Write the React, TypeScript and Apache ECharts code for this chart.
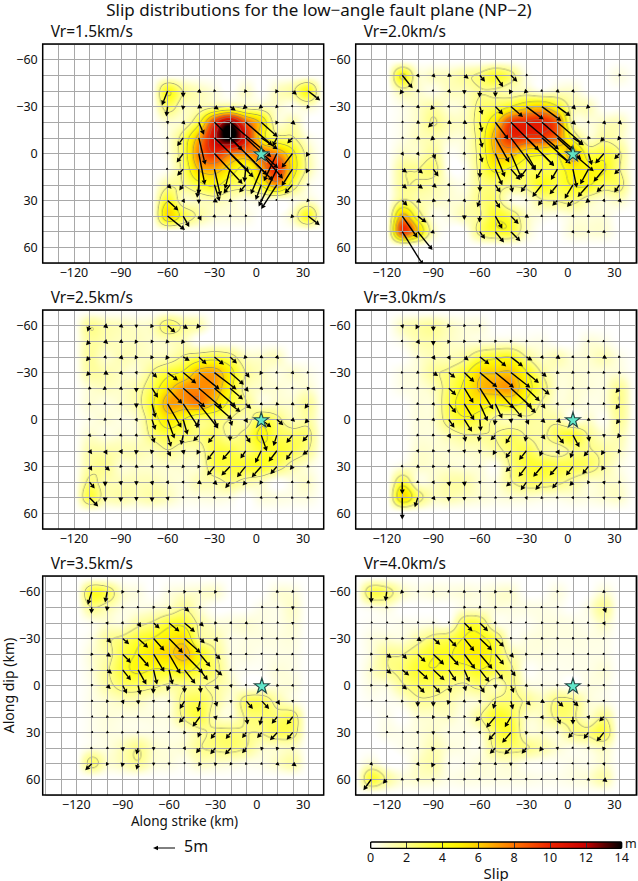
import React, { useEffect, useRef } from "react";
import * as echarts from "echarts";

const FONT = '"Noto Sans", sans-serif';
const MINUS = "\u2212";
const mainTitle = `Slip distributions for the low${MINUS}angle fault plane (NP${MINUS}2)`;
const rakeScalePxPerMetre = 4.34;

// Slip colour ramp: [slip in m, colour]
const rampSlip = [0, 0.5, 1, 2, 3, 4, 5, 6, 7, 8, 10, 12, 13, 14];
const rampColor = ["#ffffff", "#ffffe2", "#ffffc0", "#ffff8c", "#ffff50", "#ffff14", "#fff000", "#ffd000", "#ffa000", "#ff7400", "#ee2400", "#c80000", "#600000", "#000000"];
const contourLevels = [2, 4, 6, 8, 10, 12];
const colorbarTicks = [0, 14];
const hypocentre = [[0, 0]];

// Each row holds the (strike, dip) slip pair in metres for each column, flat.
const vr15Cols = [-60, -50, -40, -30, -20, -10, 0, 10, 20, 30];
const vr15Rows = [-40, -30, -20, -10, 0, 10, 20, 30, 40];
const vr15Slip = [
  [-1.3,3.3, 0,1.5, .6,.5, -.3,.3, 0,0, -.4,.5, 0,0, -.4,.6, 1,.9, 2.8,2.2],
  [-.3,2.3, -.1,.8, .8,.4, 1,.7, 1.3,.9, -.7,.6, -.6,.5, -.4,.4, .1,.2, -.4,.5],
  [.1,.5, .5,.5, 1.2,2.9, 6.5,6.5, 9.5,8, 6.2,5.4, 3.8,3.4, -.3,.6, .7,.6, 0,0],
  [.3,.2, -1.4,1.9, 1.5,6.2, 8,7.8, 9.9,9.9, 7.5,7, 3.8,2.6, -1,2, -1.2,1.3, .3,.2],
  [.1,.3, -1.5,2.1, 1.4,7.2, 6.5,7, 5.4,5.5, 5,5, 5,5.8, -3,6.4, -2.5,3.3, -.5,.8],
  [.2,.1, -1.4,1.5, 0,5.8, 1.4,6.2, -1.2,4.6, -.3,3, -2.4,5.8, -4.2,8.6, -2.5,3.9, -.5,1],
  [.9,.9, -.9,1.3, -.4,3, 1.2,3.8, -1.5,2, -1.5,1.8, -1.3,3.5, -3.6,5.6, -1.8,2, 0,.4],
  [2.5,2.3, .4,.6, 0,.8, .8,.5, .6,.3, .2,.2, -.3,.3, .1,.1, .2,.2, -.4,.4],
  [4,3.2, 1.4,2.5, .6,1.1, -.5,.2, -.3,.3, -.2,.3, 0,0, 0,0, -.5,.5, 2.7,2.1],
];

const vr20Cols = [-110, -100, -90, -80, -70, -60, -50, -40, -30, -20, -10, 0, 10, 20, 30];
const vr20Rows = [-50, -40, -30, -20, -10, 0, 10, 20, 30, 40, 50];
const vr20Slip = [
  [2.4,3, .4,.5, .5,.5, .7,.3, 1,.8, 1.2,1.5, 1.8,2.7, 1.5,1.5, -.2,.2, 0,0, 0,0, 0,0, 0,0, 0,0, -.2,.3],
  [-.6,.8, .5,.3, .2,.2, .5,.5, 0,.8, -.1,1.5, 0,1.4, -.4,.8, -.6,.6, .3,.2, .5,.4, .4,.4, 0,0, 0,0, 0,0],
  [-.2,.2, .5,.4, -.7,.8, .3,.3, .5,.4, .6,1.9, 1.8,1.8, 2.8,2.4, 4,3, 4.5,3.3, 3,2.2, .7,.7, -.6,.5, 0,0, 0,0],
  [-.2,.2, .6,.3, -1.2,1.2, .7,.4, .7,.4, .5,2.3, 3,4, 6.5,6.5, 7.5,6.3, 7.4,6.5, 6,5.2, .7,.6, .3,.3, .5,.5, .6,.5],
  [-.3,.1, .6,.4, -.7,.6, .5,.1, .5,.3, .6,2.3, 3.2,5.7, 5.7,7.5, 6.4,6.5, 6.6,5.9, 5.5,5, 2.5,1.7, .6,.1, -.9,.9, -.5,.6],
  [.4,.5, .4,.5, .5,1.3, .1,.1, .4,.3, .6,2.1, 2.2,5.4, 2.5,5.8, 2.2,3.8, 2.8,2.8, 3,2.3, 4.8,4.1, .8,2.7, -2,2.3, -1.2,1.3],
  [1.1,.8, 1.2,1, 1.2,1.7, .1,.1, .1,.1, 0,2, 1.6,3.7, 2.2,2.5, -1.5,2, -1.4,2.3, -1.5,2.5, .9,4.3, -1.9,3.5, -2.4,2.9, -1.2,1.2],
  [1.1,.9, 1.2,.9, .8,.7, .3,.4, .1,.3, 0,1.6, 1.2,1.8, .4,1.8, -1.3,1.7, -2.2,2.8, -1.8,2.2, -1.9,3.2, -2.5,2.8, -1.7,1.7, -1.2,1.8],
  [1.2,1.2, .8,.6, .7,.2, .4,.3, .4,.4, -.6,1.6, 1.1,1.8, .2,.3, .3,.2, -.9,1.2, -1.2,1.2, -1.4,1.5, -.7,.6, .3,.4, .5,.5],
  [3.5,5, 2,1.5, .3,.1, .2,.3, 0,.9, -.1,1.5, 1.6,2.9, 1.8,1.8, .6,.4, .3,.2, .2,.1, .3,.4, .4,.2, .3,.3, 0,0],
  [4.8,7.7, 3.4,4.2, -.7,.3, 0,0, 0,0, 1.2,1.7, 2,2.5, 2.2,2.2, .5,.5, 0,0, 0,0, .3,.4, .4,.3, .4,.3, 0,0],
];

const vr25Cols = [-110, -100, -90, -80, -70, -60, -50, -40, -30, -20, -10, 0, 10, 20, 30];
const vr25Rows = [-60, -50, -40, -30, -20, -10, 0, 10, 20, 30, 40, 50];
const vr25Slip = [
  [-.5,1.4, .7,.6, .6,.5, 0,.6, -.4,.6, 1.8,1.6, 1.1,.8, -.6,.7, 0,0, 0,0, 0,0, 0,0, 0,0, 0,0, 0,0],
  [-.8,.9, .7,.6, .6,.4, -.4,.6, -.3,.5, -.5,.5, -.5,.6, 0,0, 0,0, 0,0, 0,0, 0,0, 0,0, 0,0, 0,0],
  [-.8,1, .4,.4, .6,.6, -.4,.6, -.4,.6, -.5,.7, 1.5,.9, 1.8,1.7, 2.2,1.8, 1.6,1.5, -.5,.5, .5,.3, .5,.5, 0,0, 0,0],
  [-.8,.8, .8,.5, .5,.5, .2,.5, 1.2,1.2, 2.4,1.8, 3,2.5, 4.8,3.9, 5.1,3.9, 3.2,2.8, .9,1.2, -.4,.6, .3,.2, .4,.4, .3,.1],
  [.5,.2, -.6,.4, .5,.4, 0,1, 1.4,2.2, 3.4,3.6, 5.1,4.4, 5.4,4.6, 5,4.3, 3,2.6, .7,.8, .4,.4, .4,.3, .2,.3, -.2,.5],
  [.4,.3, .3,.2, .4,.4, 0,1, .8,3.2, 3.2,5.5, 3.6,5.5, 4.5,5.7, 4.1,3.6, 2.4,1.9, 1.3,1.1, .4,.3, .6,.2, .5,.3, -.8,1.1],
  [.1,.3, -.4,.3, .3,.2, .3,.5, .8,2.4, 1.6,4.4, 1,3.5, -.5,2, .8,2, .5,1.5, .5,.8, 2.3,1.8, 1.5,1.3, .6,.5, -.8,.9],
  [.4,.4, .3,.1, .4,.3, .4,.3, .6,1.8, .8,2.7, -.5,2.3, -1.3,1.4, -1.5,1.8, 0,1.4, 1.1,1.8, 1.3,3.7, -.8,2.5, -1.4,1.8, -1.3,1.5],
  [.6,.8, .5,.9, .4,.8, -.1,.9, -.2,.8, .8,1.3, .2,.9, -.5,.9, -1.7,2.2, -1.8,2.1, -1.2,1.8, -1.4,2.8, -1.9,2.5, -1.5,2.1, -1.3,.9],
  [.6,1, 1.1,1, .5,.1, .5,.3, .4,.4, .4,.4, -.4,.4, -.3,.5, -1.7,2.1, -2,2.1, -2,2.5, -2.2,2.5, -1.5,1.8, -.6,.8, .4,.2],
  [1.2,1.5, 0,1, .1,.8, 0,.8, .2,.8, .3,.5, .2,.4, .7,.5, .7,.7, -1.1,1.4, -.7,.8, -.4,.6, 0,0, .3,.2, .5,.3],
  [2,2, 0,1, 0,1, 0,.8, 0,1, .2,.7, .1,.3, -.2,.3, .3,.3, .3,.2, 0,0, .3,.3, .3,.2, .3,.1, .3,.2],
];

const vr30Cols = [-110, -100, -90, -80, -70, -60, -50, -40, -30, -20, -10, 0, 10, 20, 30];
const vr30Rows = [-60, -50, -40, -30, -20, -10, 0, 10, 20, 30, 40, 50];
const vr30Slip = [
  [.2,.7, -.5,.9, 0,1.3, -.5,.5, -.3,.3, -.2,.4, 0,0, 0,0, 0,0, 0,0, 0,0, 0,0, 0,0, 0,0, 0,0],
  [.2,.2, .5,.7, 0,1, -.3,.6, -.3,.4, -.2,.4, -.2,.4, -.2,.4, -.2,.2, -.2,.2, 0,0, 0,0, .3,.3, .3,.1, 0,0],
  [0,0, .5,.1, .5,.7, .4,.7, 1,.8, 2.2,1.7, 2.5,2.2, 2.8,2.2, 1.4,.8, .4,.5, .7,.5, .3,.3, .5,.2, .7,.4, .3,.1],
  [.3,.1, -.4,.3, 1.1,.8, 1.5,1.2, 2.3,2.2, 4,3.4, 4.3,3.5, 4.5,3.5, 2.9,2.4, 1.1,1, .5,.2, -.4,.3, -.3,.3, .4,.1, .4,.2],
  [.2,.2, .4,.1, .5,.6, 1.7,1.6, 2.1,3.4, 3.1,4.9, 4.3,4.7, 4.9,4.5, 3.1,3, 1.8,1.5, .3,.4, -.4,.3, -.3,.3, .4,.1, -.9,1.1],
  [0,0, .4,.1, .4,.4, 1.7,2.1, 2.3,3.8, 1.8,4, 1.6,3.4, 2.6,3.2, 2.2,2.1, .8,1.1, .3,.4, -.4,.3, .3,.1, .4,.1, -.9,1.3],
  [0,0, .4,.1, .4,.4, 1.3,1.9, 1.8,2.8, .2,2.7, -.2,1.3, .1,.9, .6,1.2, .8,.8, .8,.8, .1,.1, .5,.3, .1,.1, -.8,1.1],
  [0,0, .4,.1, .4,.2, .5,.8, .3,1.5, -.3,1.5, -1.1,1.2, -1.2,2, -.3,1.5, .8,1, 1.5,2, 1.5,2.8, .2,1.5, 0,.6, -.6,.7],
  [0,0, .2,.5, .5,.1, .1,.5, .1,.6, -.1,.7, -.6,1, -1.2,1.7, -1.7,2.1, -.5,1.3, .5,.9, -.6,1.7, -1.1,1.3, -.7,1, -.4,.6],
  [.3,.2, .5,.3, .5,.1, .5,.1, .4,.1, .4,.2, .1,.1, -1.2,1.3, -1.8,2.4, -2,2.4, -1.8,2.1, -1.6,2.1, -1.4,1.8, -.6,1, .3,.2],
  [0,2.8, .4,.2, .3,.5, .2,1, .1,1, .1,.5, .3,.2, -1.1,1, -1.3,1.9, -1.5,1.8, -1.2,1.5, -.8,.9, -.3,.5, .2,.6, .5,.1],
  [0,5, -.7,2.2, .5,.6, 0,.9, 0,.7, 0,.5, -.3,.2, .5,.1, .2,.5, .4,.1, .3,.2, .2,.4, .2,.3, .1,.5, .1,.6],
];

const vr35Cols = [-110, -100, -90, -80, -70, -60, -50, -40, -30, -20, -10, 0, 10, 20];
const vr35Rows = [-60, -50, -40, -30, -20, -10, 0, 10, 20, 30, 40, 50];
const vr35Slip = [
  [-.9,3, -.5,2.5, -.3,.5, -.2,.3, 0,0, -.2,.3, -.2,.5, -.2,.5, -.3,.5, 0,0, 0,0, 0,0, .4,.2, -.3,.3],
  [-.1,1.5, -.1,.9, .3,.2, .3,.1, -.2,.4, .6,.4, 1.1,1, -.3,.4, 0,0, 0,0, 0,0, -.2,.2, -.2,.2, 0,.6],
  [-.1,.2, .2,.5, .3,.3, .7,1, 1.4,1.3, 2.4,2, 2.4,2.1, .9,.8, .5,.1, .3,.3, .4,.3, -.2,.3, -.2,.2, 0,.5],
  [-.1,.3, .9,1, 1.5,1.3, 2.3,2.1, 2.5,2.8, 3.2,3.3, 3.7,3.3, 1.1,1.1, .6,.8, .3,.1, .3,.2, -.2,.3, .3,.2, 0,.4],
  [-.3,.4, .9,.6, 1.9,2, 2.5,2.9, 2.5,4.1, 2.6,4.5, 4.3,4.4, 2.4,2.9, 1.2,1.2, .2,.3, .3,.2, .1,.2, .3,.1, .3,.1],
  [-.3,.3, 1.1,.9, 1.9,2.4, 1.9,3.4, .8,3.4, .8,3.4, 2.5,3.2, 1.8,2.4, 1.6,1.3, .3,.3, .1,.1, .1,.1, .3,.3, .3,.1],
  [-.1,.3, .8,.8, 1,1.9, .5,2.2, -.1,1.9, -.5,1.3, 0,1.7, .2,1.7, .8,1, .2,.6, .1,.1, .1,.1, -.3,.3, .3,.3],
  [-.2,.2, -.3,.4, .3,.7, .1,.8, .1,.4, .2,.4, -1.1,1.8, -.5,2.5, .4,1.3, 0,.5, 1.5,1.8, 1.7,1.8, .6,.9, .1,.4],
  [-.2,.1, -.3,.3, .3,.2, .3,.2, .3,.2, .3,.3, -1.3,1.4, -1.7,2.3, .2,.8, .2,.4, .3,1.8, -.5,2, -1.3,1.6, -1.4,1.8],
  [-.2,.1, -.3,.2, .3,.1, .3,.1, .2,.2, .2,.2, -.3,.4, -.5,1.2, -1.1,1.5, -1.2,1.5, -1,1.3, -1.1,1.3, -1.7,1.8, -1.4,1.7],
  [.3,.1, -.3,.2, .1,.8, -.4,1.5, 0,.6, .4,.1, .3,.5, -.9,1.2, -1.2,1.4, -1.4,1.5, -1,1.2, -.2,.6, -.2,.6, 0,.7],
  [-1.5,1.5, -.3,.5, -.2,.8, -.4,1.4, 0,.5, 0,.4, 0,.2, -.4,.6, -.1,.6, -.3,.4, .3,.1, .3,.1, .5,.4, .9,.6],
];

const vr40Cols = [-130, -120, -110, -100, -90, -80, -70, -60, -50, -40, -30, -20, -10, 0, 10, 20];
const vr40Rows = [-60, -50, -40, -30, -20, -10, 0, 10, 20, 30, 40, 50, 60];
const vr40Slip = [
  [0,2.6, -.3,2.2, -.5,.5, -.3,.1, -.3,.3, .3,.2, .4,.2, -.2,.3, -.3,.4, -.2,.5, 0,0, 0,0, -.2,.3, 0,0, 0,0, -.4,.3],
  [-.2,.2, .4,.2, 0,0, 0,0, 0,0, 0,0, -.3,.3, -.3,.3, -.3,.3, -.2,.3, .3,.1, .3,.1, -.1,.2, 0,0, .3,.2, .5,1.3],
  [-.1,.1, -.1,.1, -.1,.2, -.1,.2, -.1,.3, 0,.2, 1.9,1.9, 1.9,1.9, .3,.3, -.1,.2, .1,.1, -.2,.3, -.2,.3, .3,.1, .2,.1, .3,.6],
  [-.3,.2, -.3,.4, -.3,.3, .9,.6, 1.6,1.4, 1.8,1.9, 2.3,2.9, 2.8,2.7, 2,1.9, -.1,.3, .3,.2, -.3,.3, -.2,.3, -.2,.3, .3,.1, .3,.1],
  [-.3,.3, 1.1,.9, 1.1,1.1, 1.8,1.8, 2.5,2.4, 2.3,2.6, 2.5,3.4, 2.9,3.4, 2,2.4, .7,.8, .4,.1, -.2,.3, -.2,.2, -.2,.2, .2,.2, .2,.2],
  [-.3,.5, 1.1,.9, 1.6,1.3, 2.4,2.2, 2.6,2.4, 1.7,2.6, 1.2,2.8, 2.2,2.8, 1.8,2.2, 1.1,1.5, .1,.1, -.1,.2, 0,.2, .1,.2, .2,.2, .4,.2],
  [-.2,.3, -.3,.3, 1.1,.9, 1.6,1.7, 1.6,1.7, .5,1.7, .4,1.3, 1.1,1.7, .1,.8, .7,1.7, .4,.3, .1,.3, .1,.3, 0,0, -.2,.3, .1,.3],
  [-.1,.1, .1,.1, .4,.1, 0,1.3, 0,1.3, -.3,.9, .4,.3, .1,.6, -.5,1.8, .5,1.9, 1,1, .7,.4, 1.4,1.3, 1.3,1.2, -.3,.4, .1,.3],
  [0,0, -.2,.1, 0,0, .1,.5, -.3,.5, -.2,.6, -.2,.3, -1,1.1, -2.1,2.5, -1.4,2.4, 0,.7, .4,.6, .7,1.8, 0,1.8, .2,.6, -1.1,1.1],
  [0,0, -.2,.2, -.2,.1, .1,.4, 0,.6, .1,.3, .1,.3, .2,.4, -1.6,1.8, -2,2.4, -.1,.6, .2,.5, .1,.5, -1.1,1.3, -1.1,1.5, -1.7,2.1],
  [0,0, 0,0, -.2,.1, .1,.4, -.3,.8, -.3,.3, .3,.1, .2,.2, -1.3,1.3, -1.5,1.5, -1.1,1.3, -.6,.8, .1,.5, .2,.2, .2,.4, -.3,.7],
  [.4,.4, 0,0, 0,0, .4,.5, -.4,.9, -.1,.2, .1,.2, .4,.2, .4,.3, 0,.6, .1,.2, .1,.1, .1,.1, .2,.2, .2,.1, .2,.5],
  [-1.8,2.5, -.9,1, .4,.2, .1,.6, 0,.6, .2,.2, -.2,.3, .3,.2, .3,.2, .3,.2, .1,.3, .2,.1, .1,.2, -.2,.3, .4,.3, .8,.6],
];

const panelLabels = ["Vr=1.5km/s", "Vr=2.0km/s", "Vr=2.5km/s", "Vr=3.0km/s", "Vr=3.5km/s", "Vr=4.0km/s"];
const panelCols = [vr15Cols, vr20Cols, vr25Cols, vr30Cols, vr35Cols, vr40Cols];
const panelRows = [vr15Rows, vr20Rows, vr25Rows, vr30Rows, vr35Rows, vr40Rows];
const panelSlip = [vr15Slip, vr20Slip, vr25Slip, vr30Slip, vr35Slip, vr40Slip];

const X_MIN = -140, X_MAX = 40, Y_MIN = -70, Y_MAX = 70;
const panelW = 281, panelH = 219;
const panelLeft = [42.7, 355.7, 42.7, 355.7, 42.7, 355.7];
const panelTop = [44, 44, 310, 310, 576, 576];

function hexRgb(h: string) {
  return [parseInt(h.slice(1, 3), 16), parseInt(h.slice(3, 5), 16), parseInt(h.slice(5, 7), 16)];
}
const rampRgb = rampColor.map(hexRgb);
function rampAt(v: number) {
  if (v <= 0) return rampRgb[0];
  for (let i = 1; i < rampSlip.length; i++) {
    if (v <= rampSlip[i]) {
      const t = (v - rampSlip[i - 1]) / (rampSlip[i] - rampSlip[i - 1]);
      const a = rampRgb[i - 1], b = rampRgb[i];
      return [a[0] + (b[0] - a[0]) * t, a[1] + (b[1] - a[1]) * t, a[2] + (b[2] - a[2]) * t];
    }
  }
  return rampRgb[rampRgb.length - 1];
}
function cr(p0: number, p1: number, p2: number, p3: number, t: number) {
  return 0.5 * (2 * p1 + (p2 - p0) * t + (2 * p0 - 5 * p1 + 4 * p2 - p3) * t * t + (3 * p1 - p0 - 3 * p2 + p3) * t * t * t);
}

// Paints the slip field given at the subfault nodes; each node's slip is the length of its vector.
function slipFieldImage(i: number) {
  const cols = panelCols[i], rows = panelRows[i], table = panelSlip[i];
  const nodes = rows.map((_, r) => cols.map((_, c) => {
    const s = Math.hypot(table[r][c * 2], table[r][c * 2 + 1]);
    return s + 0.4 * Math.min(s, 1);
  }));
  const at = (r: number, c: number) => (r >= 0 && r < rows.length && c >= 0 && c < cols.length ? nodes[r][c] : 0);
  const sample = (x: number, y: number) => {
    const u = (x - cols[0]) / 10, w = (y - rows[0]) / 10;
    if (u < -1 || w < -1 || u > cols.length || w > rows.length) return 0;
    const c = Math.floor(u), r = Math.floor(w), tu = u - c, tw = w - r;
    const line: number[] = [];
    for (let k = -1; k <= 2; k++) line.push(cr(at(r + k, c - 1), at(r + k, c), at(r + k, c + 1), at(r + k, c + 2), tu));
    return Math.max(0, cr(line[0], line[1], line[2], line[3], tw));
  };
  const W = panelW, H = panelH;
  const canvas = document.createElement("canvas");
  canvas.width = W; canvas.height = H;
  const ctx = canvas.getContext("2d")!;
  const img = ctx.createImageData(W, H);
  const f = new Float32Array((W + 2) * (H + 2));
  for (let py = 0; py < H + 2; py++) for (let px = 0; px < W + 2; px++) {
    f[py * (W + 2) + px] = sample(X_MIN + ((px - 0.5) / W) * (X_MAX - X_MIN), Y_MIN + ((py - 0.5) / H) * (Y_MAX - Y_MIN));
  }
  for (let py = 0; py < H; py++) for (let px = 0; px < W; px++) {
    const k = (py + 1) * (W + 2) + px + 1;
    const v = f[k];
    let [r, g, b] = rampAt(v);
    const gx = (f[k + 1] - f[k - 1]) / 2, gy = (f[k + W + 2] - f[k - W - 2]) / 2;
    const g2 = Math.max(Math.hypot(gx, gy), 1e-3);
    for (const L of contourLevels) {
      const d = Math.abs(v - L) / g2;
      if (d < 0.8) {
        const a = (1 - d / 0.8) * 0.65;
        r = r * (1 - a) + 125 * a; g = g * (1 - a) + 125 * a; b = b * (1 - a) + 110 * a;
      }
    }
    const o = (py * W + px) * 4;
    img.data[o] = r; img.data[o + 1] = g; img.data[o + 2] = b; img.data[o + 3] = 255;
  }
  ctx.putImageData(img, 0, 0);
  return canvas.toDataURL("image/png");
}

const STAR = "path://M50 0 L61 35 L98 35 L68 57 L79 91 L50 70 L21 91 L32 57 L2 35 L39 35 Z";

function buildOption() {
  const grids: any[] = [], xAxes: any[] = [], yAxes: any[] = [], series: any[] = [], titles: any[] = [], frames: any[] = [];
  titles.push({ text: mainTitle, left: "center", top: 1, padding: 0, textStyle: { fontFamily: FONT, fontWeight: "normal", fontSize: 17, color: "#111" } });
  panelLabels.forEach((label, i) => {
    const left = panelLeft[i], top = panelTop[i];
    grids.push({ left, top, width: panelW, height: panelH, show: false });
    titles.push({ text: label, left: left + 8, top: top - 21, padding: 0, textStyle: { fontFamily: FONT, fontWeight: "normal", fontSize: 15.5, color: "#111" } });
    frames.push({ type: "rect", shape: { x: left, y: top, width: panelW, height: panelH }, style: { fill: "none", stroke: "#000", lineWidth: 1.5 }, z: 50, silent: true });
    const labelStyle = { fontFamily: FONT, fontSize: 12.5, color: "#111" };
    xAxes.push({
      type: "value", gridIndex: i, min: X_MIN, max: X_MAX, interval: 10, z: 1,
      axisLine: { show: false }, axisTick: { show: false },
      splitLine: { show: true, lineStyle: { color: "#a8a8a8", width: 1 } },
      axisLabel: {
        ...labelStyle, margin: 3, showMinLabel: true, showMaxLabel: true,
        rich: { p: { ...labelStyle, padding: [0, 10, 0, 0] } },
        formatter: (v: number) => (v % 30 !== 0 ? "" : v < 0 ? `${MINUS}${-v}` : `{p|${v}}`),
      },
      ...(i === 4 ? { name: "Along strike (km)", nameLocation: "middle", nameGap: 19, nameTextStyle: { fontFamily: FONT, fontSize: 13.5, color: "#111" } } : {}),
    });
    yAxes.push({
      type: "value", gridIndex: i, min: Y_MIN, max: Y_MAX, interval: 10, inverse: true, z: 1,
      axisLine: { show: false }, axisTick: { show: false },
      splitLine: { show: true, lineStyle: { color: "#a8a8a8", width: 1 } },
      axisLabel: { ...labelStyle, margin: 5, formatter: (v: number) => (v % 30 !== 0 ? "" : v < 0 ? `${MINUS}${-v}` : `${v}`) },
      ...(i === 4 ? { name: "Along dip (km)", nameLocation: "middle", nameGap: 29, nameTextStyle: { fontFamily: FONT, fontSize: 14, color: "#111" } } : {}),
    });
    const url = slipFieldImage(i);
    series.push({
      type: "custom", name: `slip ${label}`, xAxisIndex: i, yAxisIndex: i, z: 0, silent: true, clip: true,
      data: [[X_MIN, Y_MIN, X_MAX, Y_MAX]],
      encode: { x: [0, 2], y: [1, 3] },
      renderItem: (_: any, api: any) => {
        const a = api.coord([api.value(0), api.value(1)]);
        const b = api.coord([api.value(2), api.value(3)]);
        return { type: "image", style: { image: url, x: a[0], y: a[1], width: b[0] - a[0], height: b[1] - a[1] } };
      },
    });
    const cols = panelCols[i], rows = panelRows[i], table = panelSlip[i];
    const vectors: number[][] = [];
    rows.forEach((y, r) => cols.forEach((x, c) => {
      const dx = table[r][c * 2], dy = table[r][c * 2 + 1];
      if (dx !== 0 || dy !== 0) vectors.push([x, y, dx, dy]);
    }));
    series.push({
      type: "custom", name: `vectors ${label}`, xAxisIndex: i, yAxisIndex: i, z: 5, silent: true, clip: true,
      data: vectors, encode: { x: 0, y: 1 },
      renderItem: (_: any, api: any) => {
        const p = api.coord([api.value(0), api.value(1)]);
        const ex = api.value(2) * rakeScalePxPerMetre, ey = api.value(3) * rakeScalePxPerMetre;
        const len = Math.hypot(ex, ey) || 1;
        const ux = ex / len, uy = ey / len;
        const head = Math.min(4.6, len * 0.8 + 1.4), half = head * 0.55;
        const tx = p[0] + ex, ty = p[1] + ey;
        const bx = tx - ux * head, by = ty - uy * head;
        return {
          type: "group",
          children: [
            { type: "line", shape: { x1: p[0], y1: p[1], x2: bx, y2: by }, style: { stroke: "#000", lineWidth: 1.4 } },
            { type: "polygon", shape: { points: [[tx, ty], [bx - uy * half, by + ux * half], [bx + uy * half, by - ux * half]] }, style: { fill: "#000" } },
          ],
        };
      },
    });
    series.push({
      type: "scatter", name: "halo", xAxisIndex: i, yAxisIndex: i, z: 6, silent: true, data: hypocentre,
      symbol: STAR, symbolSize: 19, itemStyle: { color: "#ffffff" },
    });
    series.push({
      type: "scatter", name: "hypocentre", xAxisIndex: i, yAxisIndex: i, z: 7, silent: true, data: hypocentre,
      symbol: STAR, symbolSize: 15, itemStyle: { color: "#3fe3c0", borderColor: "#04201c", borderWidth: 1.2 },
    });
  });
  // Colour bar
  const cb = panelLabels.length;
  const cbLeft = 370.7, cbTop = 842, cbW = 251, cbH = 6.3;
  grids.push({ left: cbLeft, top: cbTop, width: cbW, height: cbH, show: false });
  xAxes.push({
    type: "value", gridIndex: cb, min: 0, max: 14, interval: 2, z: 1,
    axisLine: { show: false }, axisTick: { show: false },
    splitLine: { show: true, lineStyle: { color: "#333", width: 1 } },
    axisLabel: { fontFamily: FONT, fontSize: 12.5, color: "#111", margin: 3 },
    name: "Slip", nameLocation: "middle", nameGap: 15, nameTextStyle: { fontFamily: FONT, fontSize: 15, color: "#111" },
  });
  yAxes.push({ type: "value", gridIndex: cb, min: 0, max: 1, show: false, splitLine: { show: false } });
  series.push({
    type: "custom", name: "colour bar", xAxisIndex: cb, yAxisIndex: cb, z: 0, silent: true,
    data: [[colorbarTicks[0], colorbarTicks[1]]],
    encode: { x: [0, 1] },
    renderItem: (_: any, api: any) => {
      const a = api.coord([api.value(0), 1]), b = api.coord([api.value(1), 0]);
      return {
        type: "rect", shape: { x: a[0], y: a[1], width: b[0] - a[0], height: b[1] - a[1] },
        style: { fill: { type: "linear", x: 0, y: 0, x2: 1, y2: 0, colorStops: rampSlip.map((s, k) => ({ offset: s / 14, color: rampColor[k] })) } },
      };
    },
  });
  frames.push({ type: "rect", shape: { x: cbLeft, y: cbTop, width: cbW, height: cbH, r: 1 }, style: { fill: "none", stroke: "#000", lineWidth: 1.3 }, z: 50, silent: true });
  frames.push({ type: "text", x: 625, y: 837, style: { text: "m", fontFamily: FONT, fontSize: 12.5, fill: "#111" }, z: 50, silent: true });
  // Scale arrow
  frames.push({ type: "line", shape: { x1: 157, y1: 848, x2: 175, y2: 848 }, style: { stroke: "#000", lineWidth: 1 }, z: 50, silent: true });
  frames.push({ type: "polygon", shape: { points: [[153, 848], [158, 845.8], [158, 850.2]] }, style: { fill: "#000" }, z: 50, silent: true });
  frames.push({ type: "text", x: 184, y: 838, style: { text: "5m", fontFamily: FONT, fontSize: 16, fill: "#111" }, z: 50, silent: true });
  return {
    animation: false, backgroundColor: "#fff",
    title: titles, grid: grids, xAxis: xAxes, yAxis: yAxes, series,
    graphic: { elements: frames },
  };
}

export default function App() {
  const ref = useRef<HTMLDivElement>(null);
  useEffect(() => {
    const chart = echarts.init(ref.current!, undefined, { renderer: "svg" });
    chart.setOption(buildOption());
    return () => chart.dispose();
  }, []);
  return <div ref={ref} style={{ position: "absolute", left: 0, top: 0, width: 638, height: 881 }} />;
}
